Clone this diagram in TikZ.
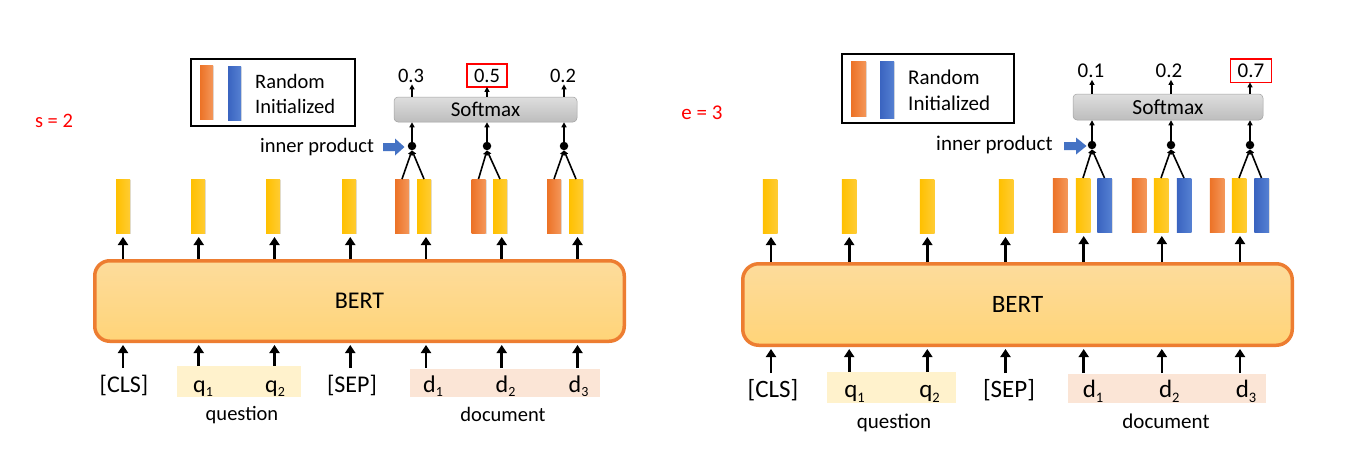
\documentclass[tikz,border=0pt]{standalone}
\usepackage{fontspec}
\setmainfont{Carlito}
\usetikzlibrary{arrows.meta,shadows,calc}
\definecolor{orA}{HTML}{EC7226}
\definecolor{orB}{HTML}{F4975A}
\definecolor{yeA}{HTML}{FFC000}
\definecolor{yeB}{HTML}{FFCC33}
\definecolor{blA}{HTML}{3A64C0}
\definecolor{blB}{HTML}{5580D2}
\definecolor{bertBorder}{HTML}{ED7D31}
\definecolor{bertTop}{HTML}{FDDC9C}
\definecolor{bertBot}{HTML}{FFD478}
\definecolor{smTop}{HTML}{DEDEDE}
\definecolor{smBot}{HTML}{BDBDBD}
\definecolor{qfill}{HTML}{FFF2CC}
\definecolor{dfill}{HTML}{FBE5D6}
\definecolor{redC}{HTML}{FF0000}
\definecolor{arrBlue}{HTML}{4472C4}
\newcommand\subn[1]{\raisebox{-0.2em}{\fontsize{14}{14}\selectfont #1}}
\newcommand\subnR[1]{\raisebox{-0.2em}{\fontsize{14.5}{14.5}\selectfont #1}}
\tikzset{
  barbox/.style={minimum width=14pt, minimum height=54pt, inner sep=0pt, outer sep=0pt,
    drop shadow={shadow xshift=1pt,shadow yshift=-1pt,opacity=0.25}},
  obar/.style={barbox, left color=orA, right color=orB},
  ybar/.style={barbox, left color=yeA, right color=yeB},
  bbar/.style={barbox, left color=blA, right color=blB},
  bertbox/.style={rounded corners=15pt, draw=bertBorder, line width=3.5pt, top color=bertTop, bottom color=bertBot},
  smbox/.style={rounded corners=4pt, draw=smBot!85!black, line width=0.5pt, top color=smTop, bottom color=smBot},
  dotn/.style={circle, fill=black, inner sep=0pt, minimum size=8.5pt},
  arr/.style={line width=2.6pt, -{Triangle[length=8pt,width=10pt]}},
  sarr/.style={line width=1.5pt, -{Triangle[length=5pt,width=5pt]}},
  ipl/.style={line width=1.6pt, -{Triangle[length=4.5pt,width=5pt]}},
  lblL/.style={font=\fontsize{20.5}{24}\selectfont, inner sep=0pt},
  lblR/.style={font=\fontsize{21}{25}\selectfont, inner sep=0pt},
  tokL/.style={font=\fontsize{24}{28}\selectfont, inner sep=0pt, anchor=base},
  tokR/.style={font=\fontsize{25}{29}\selectfont, inner sep=0pt, anchor=base},
  numL/.style={font=\fontsize{20.5}{24}\selectfont, inner sep=2pt, anchor=base},
  numR/.style={font=\fontsize{21}{25}\selectfont, inner sep=2pt, anchor=base},
  redbox/.style={inner xsep=7pt, inner ysep=4.5pt},
  redline/.style={draw=redC, line width=1.6pt},
  legbox/.style={draw=black, line width=1.5pt, inner sep=0pt},
}
\begin{document}
\begin{tikzpicture}[x=1pt,y=-1pt]
\fill[white] (0,0) rectangle (1358,448);
\useasboundingbox (0,0) rectangle (1358,448);

% ================= LEFT PANEL =================
\node[lblL, text=redC] (sL) at (54,121) {s = 2};
% legend
\node[legbox, minimum width=164pt, minimum height=67pt] (legL) at (273,92.5) {};
\node[obar, minimum width=13pt] (legLo) at (206.5,92) {};
\node[bbar, minimum width=13pt] (legLb) at (234.5,93) {};
\node[lblL, anchor=west] (legLt1) at (255,81) {Random};
\node[lblL, anchor=west] (legLt2) at (255,106) {Initialized};

% BERT
\node[bertbox, minimum width=529.5pt, minimum height=80.5pt, font=\fontsize{24}{28}\selectfont] (bertL) at (359.5,301) {BERT};

% bars
\node[ybar] (yL1) at (123,206) {};
\node[ybar] (yL2) at (198,206) {};
\node[ybar] (yL3) at (273,206) {};
\node[ybar] (yL4) at (349,206) {};
\node[obar] (oL5) at (402,206) {};
\node[ybar] (yL5) at (424,206) {};
\node[obar] (oL6) at (478.5,206) {};
\node[ybar] (yL6) at (500,206) {};
\node[obar] (oL7) at (554,206) {};
\node[ybar] (yL7) at (576,206) {};

% columns
\foreach \i/\x in {1/123,2/198.75,3/274.5,4/350.25,5/426,6/501.75,7/577.5}{
  \coordinate (cL\i) at (\x,368);
  \draw[arr, shorten >=2pt] (cL\i) -- (cL\i |- bertL.south);
  \draw[arr, shorten >=4pt] (cL\i |- bertL.north) -- (cL\i |- yL\i.south);
}

% input labels
\node[fill=qfill, minimum width=124pt, minimum height=31pt, inner sep=0pt] (qL) at (239,381.5) {};
\node[fill=dfill, minimum width=190pt, minimum height=28pt, inner sep=0pt] (dL) at (505,383) {};
\node[tokL] (tL1) at (124,392) {[CLS]};
\node[tokL] (tL2) at (203,392) {q\subn{1}};
\node[tokL] (tL3) at (275,392) {q\subn{2}};
\node[tokL] (tL4) at (352,392) {[SEP]};
\node[tokL] (tL5) at (433,392) {d\subn{1}};
\node[tokL] (tL6) at (505.5,392) {d\subn{2}};
\node[tokL] (tL7) at (578.5,392) {d\subn{3}};
\node[lblL, anchor=base] (quL) at (242,420) {question};
\node[lblL, anchor=base] (doL) at (503,421) {document};

% softmax
\node[smbox, minimum width=183pt, minimum height=25pt, inner sep=0pt, font=\fontsize{21}{25}\selectfont] (smL) at (485.5,109.5) {Softmax};
\node[dotn] (dL1) at (412,146) {};
\node[dotn] (dL2) at (487,146) {};
\node[dotn] (dL3) at (564,146) {};
\draw[ipl] (oL5.north) -- (dL1.south);
\draw[ipl] (yL5.north) -- (dL1.south);
\draw[ipl] (oL6.north) -- (dL2.south);
\draw[ipl] (yL6.north) -- (dL2.south);
\draw[ipl] (oL7.north) -- (dL3.south);
\draw[ipl] (yL7.north) -- (dL3.south);
\foreach \i in {1,2,3}{
  \draw[sarr] (dL\i.north) -- (dL\i.north |- smL.south);
}
\node[numL] (nL1) at (411,82) {0.3};
\node[numL, redbox] (nL2) at (487,82) {0.5};
\node[numL] (nL3) at (563,82) {0.2};
\draw[redline] (nL2.south west) rectangle (nL2.north east);
\draw[sarr] (dL1 |- smL.north) -- (dL1 |- nL1.south);
\draw[sarr] (dL2 |- smL.north) -- (dL2 |- nL2.south);
\draw[sarr] (dL3 |- smL.north) -- (dL3 |- nL3.south);

% inner product
\node[lblL, anchor=base west] (ipL) at (260,152) {inner product};
\fill[arrBlue] (383,143) -- (395,143) -- (395,138.5) -- (404.5,147) -- (395,155.5) -- (395,151) -- (383,151) -- cycle;

% ================= RIGHT PANEL =================
\node[lblR, text=redC] (eR) at (702,113) {e = 3};
\node[legbox, minimum width=172pt, minimum height=69pt] (legR) at (928,88.5) {};
\node[obar, minimum width=15pt, minimum height=55pt] (legRo) at (858.5,88.5) {};
\node[bbar, minimum width=14pt, minimum height=57pt] (legRb) at (887,89.5) {};
\node[lblR, anchor=west] (legRt1) at (908,77) {Random};
\node[lblR, anchor=west] (legRt2) at (908,103) {Initialized};

\node[bertbox, rounded corners=16pt, minimum width=549.5pt, minimum height=81.5pt, font=\fontsize{25}{29}\selectfont] (bertR) at (1017.5,304.5) {BERT};

\node[ybar, minimum width=14.5pt] (yR1) at (770,206) {};
\node[ybar, minimum width=14.5pt] (yR2) at (849,206) {};
\node[ybar, minimum width=14.5pt] (yR3) at (927,206) {};
\node[ybar, minimum width=14.5pt] (yR4) at (1006,206) {};
\node[obar, minimum width=14.5pt] (oR5) at (1060,205) {};
\node[ybar, minimum width=14.5pt] (yR5) at (1083,205) {};
\node[bbar, minimum width=14.5pt] (bR5) at (1104.5,205) {};
\node[obar, minimum width=14.5pt] (oR6) at (1139,205) {};
\node[ybar, minimum width=14.5pt] (yR6) at (1161,205) {};
\node[bbar, minimum width=14.5pt] (bR6) at (1184,205) {};
\node[obar, minimum width=14.5pt] (oR7) at (1217,205) {};
\node[ybar, minimum width=14.5pt] (yR7) at (1239,205) {};
\node[bbar, minimum width=14.5pt] (bR7) at (1261.5,205) {};

\foreach \i/\x in {1/771,2/849.2,3/927.3,4/1005.5,5/1083.7,6/1161.8,7/1240}{
  \coordinate (cR\i) at (\x,373);
  \draw[arr, shorten >=2pt] (cR\i) -- (cR\i |- bertR.south);
  \draw[arr, shorten >=4pt] (cR\i |- bertR.north) -- (cR\i |- yR\i.south);
}

\node[fill=qfill, minimum width=129pt, minimum height=31pt, inner sep=0pt] (qR) at (891.5,387.5) {};
\node[fill=dfill, minimum width=198pt, minimum height=29pt, inner sep=0pt] (dR) at (1167,388.5) {};
\node[tokR] (tR1) at (773,397) {[CLS]};
\node[tokR] (tR2) at (854.5,397) {q\subnR{1}};
\node[tokR] (tR3) at (929.5,397) {q\subnR{2}};
\node[tokR] (tR4) at (1009,397) {[SEP]};
\node[tokR] (tR5) at (1093,397) {d\subnR{1}};
\node[tokR] (tR6) at (1169.3,397) {d\subnR{2}};
\node[tokR] (tR7) at (1246,397) {d\subnR{3}};
\node[lblR, anchor=base] (quR) at (894,428) {question};
\node[lblR, anchor=base] (doR) at (1166,428) {document};

\node[smbox, minimum width=190pt, minimum height=26pt, inner sep=0pt, font=\fontsize{21.5}{25}\selectfont] (smR) at (1168,107) {Softmax};
\node[dotn] (dR1) at (1092,145) {};
\node[dotn] (dR2) at (1171,145) {};
\node[dotn] (dR3) at (1250,145) {};
\draw[ipl] (yR5.north) -- (dR1.south);
\draw[ipl] (bR5.north) -- (dR1.south);
\draw[ipl] (yR6.north) -- (dR2.south);
\draw[ipl] (bR6.north) -- (dR2.south);
\draw[ipl] (yR7.north) -- (dR3.south);
\draw[ipl] (bR7.north) -- (dR3.south);
\foreach \i in {1,2,3}{
  \draw[sarr] (dR\i.north) -- (dR\i.north |- smR.south);
}
\node[numR] (nR1) at (1091,77.5) {0.1};
\node[numR] (nR2) at (1169,77.5) {0.2};
\node[numR, redbox] (nR3) at (1251,77.5) {0.7};
\draw[redline] (nR3.south west) rectangle (nR3.north east);
\draw[sarr] (dR1 |- smR.north) -- (dR1 |- nR1.south);
\draw[sarr] (dR2 |- smR.north) -- (dR2 |- nR2.south);
\draw[sarr] (dR3 |- smR.north) -- (dR3 |- nR3.south);

\node[lblR, anchor=base west] (ipR) at (936,150) {inner product};
\fill[arrBlue] (1064,142) -- (1076,142) -- (1076,137.5) -- (1086.5,146) -- (1076,154.5) -- (1076,150) -- (1064,150) -- cycle;
\end{tikzpicture}
\end{document}
